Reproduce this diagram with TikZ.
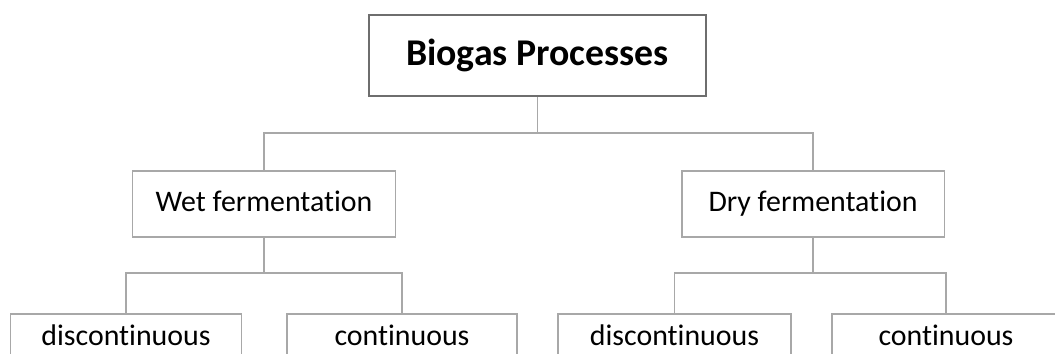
\documentclass[tikz,border=0pt]{standalone}
\usepackage{fontspec}
\setmainfont{Carlito}[Ligatures=NoCommon]
\usepackage{tikz}

\definecolor{boxgray}{HTML}{A8A8A8}
\definecolor{topgray}{HTML}{6E6E6E}

\begin{document}
\begin{tikzpicture}[x=0.02cm, y=-0.02cm,
    topbox/.style={rectangle, draw=topgray, line width=1.6pt, minimum width=6.74cm, minimum height=1.62cm, font=\fontsize{21.5}{25}\selectfont\bfseries},
    midbox/.style={rectangle, draw=boxgray, line width=1.1pt, minimum width=5.26cm, minimum height=1.31cm, text height=12pt, text depth=3pt, font=\fontsize{17}{20}\selectfont},
    leafbox/.style={rectangle, draw=boxgray, line width=1.1pt, anchor=north, inner ysep=6pt, text height=12pt, text depth=24pt, font=\fontsize{17}{20}\selectfont},
    link/.style={draw=boxgray, line width=1.1pt}]
    \useasboundingbox (0,0) rectangle (1055,354);
    % Top level
    \node[topbox] (bio) at (537.5,55.5) {Biogas Processes};

    % Second level
    \node[midbox] (wet) at (264,204) {Wet fermentation};
    \node[midbox] (dry) at (813,204) {Dry fermentation};

    % Third level
    \node[leafbox, minimum width=4.62cm] (wdisc) at (126,313) {discontinuous};
    \node[leafbox, minimum width=4.6cm] (wcont) at (402,313) {continuous};
    \node[leafbox, minimum width=4.66cm] (ddisc) at (674.5,313) {discontinuous};
    \node[leafbox, minimum width=4.56cm] (dcont) at (946,313) {continuous};

    % Junctions
    \coordinate (j0) at (537.5,133);
    \coordinate (j1) at (264,273);
    \coordinate (j2) at (813,273);

    % Connections
    \draw[link] (bio.south) -- (j0);
    \draw[link] (wet.north) |- (j0) -| (dry.north);
    \draw[link] (wet.south) -- (j1);
    \draw[link] (wdisc.north) |- (j1) -| (wcont.north);
    \draw[link] (dry.south) -- (j2);
    \draw[link] (ddisc.north) |- (j2) -| (dcont.north);
\end{tikzpicture}
\end{document}
